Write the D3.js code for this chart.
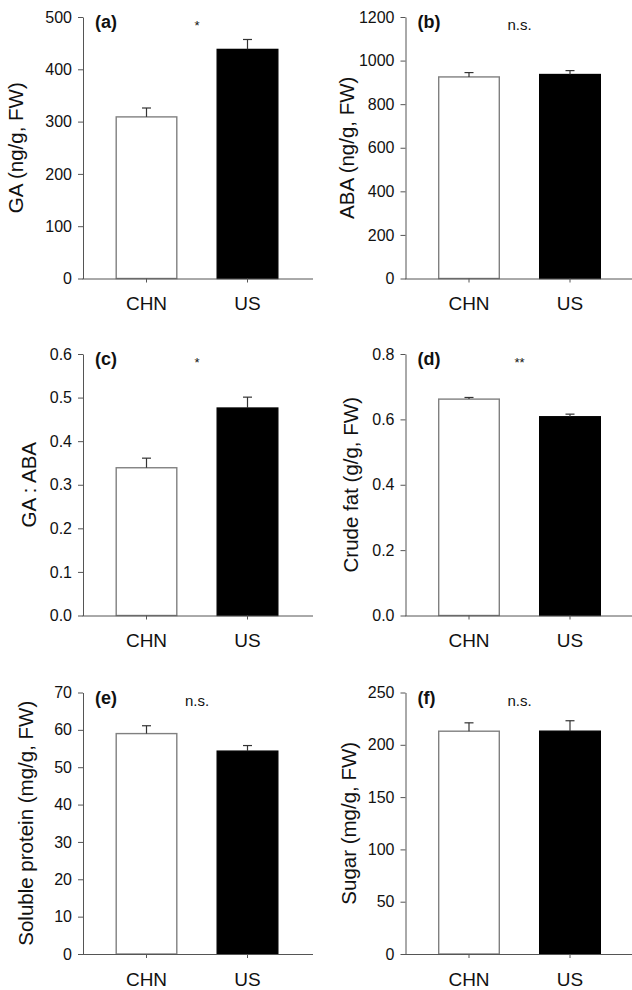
<!DOCTYPE html>
<html>
<head>
<meta charset="utf-8">
<script src="https://cdn.jsdelivr.net/npm/d3@7"></script>
<style>
  body { margin: 0; background: #fff; }
  svg { display: block; font-family: "Liberation Sans", Arial, sans-serif; }
</style>
</head>
<body>
<svg id="chart" width="632" height="990"></svg>
<script>
// data
const categories = ["CHN", "US"];
const panelLabels = ["(a)", "(b)", "(c)", "(d)", "(e)", "(f)"];
const yTitles = ["GA (ng/g, FW)", "ABA (ng/g, FW)", "GA : ABA",
                 "Crude fat (g/g, FW)", "Soluble protein (mg/g, FW)", "Sugar (mg/g, FW)"];
const yMax = [500, 1200, 0.6, 0.8, 70, 250];
const yStep = [100, 200, 0.1, 0.2, 10, 50];
const yFormat = ["d", "d", ".1f", ".1f", "d", "d"];
const chnMeans = [309, 925, 0.339, 0.662, 59.0, 213];
const chnErr = [17, 20, 0.022, 0.005, 2.1, 8];
const usMeans = [438, 936, 0.476, 0.608, 54.3, 213];
const usErr = [19, 18, 0.025, 0.008, 1.5, 10];
const significance = ["*", "n.s.", "*", "**", "n.s.", "n.s."];

// layout
const colX = [83, 405.5];
const rowTop = [17, 354, 692.5];
const plotH = 261.5, plotW = 230;
const titleOffset = [60, 52, 47, 48, 50, 50];
const axisColor = "#555";

const svg = d3.select("#chart");

panelLabels.forEach((lab, i) => {
    const x0 = colX[i % 2], y0 = rowTop[Math.floor(i / 2)];
    const g = svg.append("g").attr("transform", `translate(${x0},${y0})`);

    const x = d3.scaleBand().domain(categories).range([13, 215])
        .paddingInner(0.4).paddingOuter(0.2);
    const y = d3.scaleLinear().domain([0, yMax[i]]).range([plotH, 0]);

    const ticks = d3.range(0, yMax[i] + yStep[i] / 2, yStep[i]);

    // y axis
    const yAxis = g.append("g")
        .call(d3.axisLeft(y).tickValues(ticks).tickFormat(d3.format(yFormat[i]))
            .tickSize(5).tickSizeOuter(0).tickPadding(6));
    yAxis.selectAll("path, line").attr("stroke", axisColor);
    yAxis.selectAll("text").attr("font-size", "16px").attr("fill", "#111");

    // bars
    const means = [chnMeans[i], usMeans[i]];
    const errs = [chnErr[i], usErr[i]];
    categories.forEach((c, j) => {
        const bx = x(c), bw = x.bandwidth(), cx = bx + bw / 2;
        g.append("rect")
            .attr("x", bx).attr("y", y(means[j]))
            .attr("width", bw).attr("height", plotH - y(means[j]))
            .attr("fill", j === 0 ? "#fff" : "#000")
            .attr("stroke", j === 0 ? "#808080" : "#000")
            .attr("stroke-width", 1.4);
        // error bar, upper half only
        g.append("line")
            .attr("x1", cx).attr("x2", cx)
            .attr("y1", y(means[j])).attr("y2", y(means[j] + errs[j]))
            .attr("stroke", "#333").attr("stroke-width", 1.2);
        g.append("line")
            .attr("x1", cx - 4.5).attr("x2", cx + 4.5)
            .attr("y1", y(means[j] + errs[j])).attr("y2", y(means[j] + errs[j]))
            .attr("stroke", "#333").attr("stroke-width", 1.2);
    });

    // x axis
    const xAxis = g.append("g").attr("transform", `translate(0,${plotH})`)
        .call(d3.axisBottom(x).tickSize(4).tickPadding(14.5));
    xAxis.select(".domain").remove();
    xAxis.selectAll("line").attr("stroke", axisColor);
    xAxis.selectAll("text").attr("font-size", "19px").attr("fill", "#111");
    g.append("line")
        .attr("x1", -0.5).attr("x2", plotW)
        .attr("y1", plotH + 0.5).attr("y2", plotH + 0.5)
        .attr("stroke", axisColor);

    // y title
    g.append("text")
        .attr("transform", `translate(${-titleOffset[i]},${plotH / 2}) rotate(-90)`)
        .attr("text-anchor", "middle")
        .attr("font-size", "20.5px")
        .attr("fill", "#111")
        .text(yTitles[i]);

    // panel label
    g.append("text")
        .attr("x", 12).attr("y", 11)
        .attr("font-size", "18px").attr("font-weight", "bold")
        .attr("fill", "#111")
        .text(lab);

    // significance mark
    const mid = (x("CHN") + x("US") + x.bandwidth()) / 2;
    g.append("text")
        .attr("x", mid).attr("y", 13)
        .attr("text-anchor", "middle")
        .attr("font-size", significance[i] === "n.s." ? "15px" : "13px")
        .attr("fill", "#111")
        .text(significance[i]);
});
</script>
</body>
</html>
